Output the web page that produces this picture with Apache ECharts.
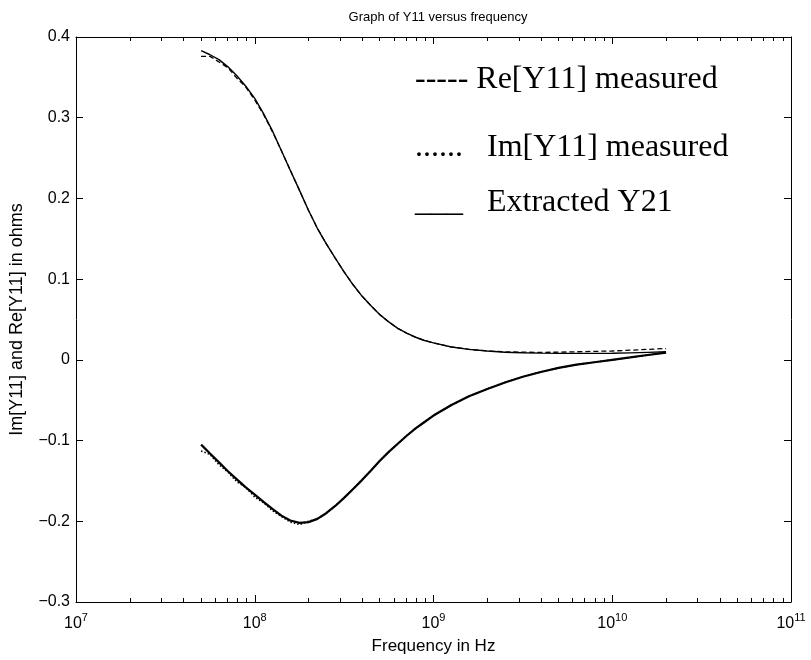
<!DOCTYPE html>
<html>
<head>
<meta charset="utf-8">
<script src="https://cdn.jsdelivr.net/npm/echarts@6/dist/echarts.min.js"></script>
<style>html,body{margin:0;padding:0;background:#fff;}#c{width:811px;height:660px;}</style>
</head>
<body>
<div id="c"></div>
<script>
const freqHz = [5.01e7, 5.62e7, 6.31e7, 7.08e7, 7.94e7, 8.91e7, 1.00e8, 1.12e8, 1.26e8, 1.41e8,
  1.58e8, 1.78e8, 2.00e8, 2.24e8, 2.51e8, 2.82e8, 3.16e8, 3.55e8, 3.98e8, 4.47e8,
  5.01e8, 5.62e8, 6.31e8, 7.08e8, 7.94e8, 8.91e8, 1.00e9, 1.26e9, 1.58e9, 2.00e9,
  2.51e9, 3.16e9, 3.98e9, 5.01e9, 6.31e9, 7.94e9, 1.00e10, 1.26e10, 1.58e10, 2.00e10];
const reMeasured = [0.376, 0.376, 0.369, 0.362, 0.349, 0.338, 0.322, 0.304, 0.282, 0.259,
  0.235, 0.210, 0.185, 0.163, 0.144, 0.126, 0.109, 0.093, 0.079, 0.067,
  0.056, 0.047, 0.039, 0.033, 0.028, 0.024, 0.021, 0.016, 0.013, 0.011,
  0.0100, 0.0095, 0.0093, 0.0095, 0.0100, 0.0105, 0.0110, 0.0120, 0.0130, 0.0140];
const imMeasured = [-0.113, -0.117, -0.130, -0.139, -0.151, -0.158, -0.170, -0.177, -0.187, -0.194,
  -0.201, -0.204, -0.200, -0.197, -0.190, -0.181, -0.171, -0.160, -0.149, -0.137,
  -0.125, -0.114, -0.104, -0.094, -0.085, -0.077, -0.069, -0.056, -0.045, -0.036,
  -0.028, -0.021, -0.015, -0.010, -0.006, -0.003, 0.000, 0.003, 0.006, 0.009];
const reExtracted = [0.383, 0.378, 0.372, 0.363, 0.352, 0.339, 0.324, 0.305, 0.283, 0.259,
  0.235, 0.210, 0.185, 0.163, 0.144, 0.126, 0.109, 0.093, 0.079, 0.067,
  0.056, 0.047, 0.039, 0.033, 0.028, 0.024, 0.021, 0.016, 0.013, 0.011,
  0.0095, 0.0088, 0.0083, 0.0080, 0.0080, 0.0080, 0.0082, 0.0087, 0.0093, 0.0100];
const imExtracted = [-0.105, -0.116, -0.127, -0.138, -0.148, -0.158, -0.167, -0.176, -0.185, -0.193,
  -0.199, -0.202, -0.201, -0.197, -0.190, -0.181, -0.171, -0.160, -0.149, -0.137,
  -0.125, -0.114, -0.104, -0.094, -0.085, -0.077, -0.069, -0.056, -0.045, -0.036,
  -0.028, -0.021, -0.015, -0.010, -0.006, -0.003, 0.000, 0.003, 0.006, 0.009];
const minorTicks = [2e7,3e7,4e7,5e7,6e7,7e7,8e7,9e7,2e8,3e8,4e8,5e8,6e8,7e8,8e8,9e8,2e9,3e9,4e9,5e9,6e9,7e9,8e9,9e9,2e10,3e10,4e10,5e10,6e10,7e10,8e10,9e10];
const legendLines = ['----- Re[Y11] measured', '......   Im[Y11] measured', '___   Extracted Y21'];

const pair = arr => freqHz.map((f, i) => [f, arr[i]]);
const sans = 'Liberation Sans';
const black = '#000';

const baseX = {
  type: 'log', logBase: 10, min: 1e7, max: 1e11, splitNumber: 4,
  axisLine: { show: true, onZero: false, lineStyle: { color: black, width: 1 } },
  splitLine: { show: false }, minorTick: { show: false }
};
const chart = echarts.init(document.getElementById('c'), null, { renderer: 'canvas' });
chart.setOption({
  animation: false,
  backgroundColor: '#fff',
  title: {
    text: 'Graph of Y11 versus frequency', left: 433, top: 6, textAlign: 'center',
    textStyle: { fontFamily: sans, fontSize: 13, fontWeight: 'normal', color: black }
  },
  grid: { left: 75, right: 20, top: 37, bottom: 58 },
  xAxis: [
    Object.assign({}, baseX, {
      position: 'bottom',
      name: 'Frequency in Hz', nameLocation: 'middle', nameGap: 36,
      nameTextStyle: { fontFamily: sans, fontSize: 17, color: black },
      axisTick: { show: true, inside: true, length: 7, lineStyle: { color: black } },
      axisLabel: {
        margin: 10, color: black,
        formatter: v => '{b|10}{e|' + Math.round(Math.log10(v)) + '}',
        rich: {
          b: { fontFamily: sans, fontSize: 16, color: black },
          e: { fontFamily: sans, fontSize: 11, color: black, padding: [0, 0, 13, 0] }
        }
      }
    }),
    Object.assign({}, baseX, {
      position: 'bottom',
      axisLine: { show: false, onZero: false },
      axisTick: { show: true, inside: true, length: 4, customValues: minorTicks, lineStyle: { color: black } },
      axisLabel: { show: false }
    }),
    Object.assign({}, baseX, {
      position: 'top',
      axisTick: { show: true, inside: true, length: 7, lineStyle: { color: black } },
      axisLabel: { show: false }
    }),
    Object.assign({}, baseX, {
      position: 'top',
      axisLine: { show: false, onZero: false },
      axisTick: { show: true, inside: true, length: 4, customValues: minorTicks, lineStyle: { color: black } },
      axisLabel: { show: false }
    })
  ],
  yAxis: [
    {
      type: 'value', min: -0.3, max: 0.4, interval: 0.1, position: 'left',
      name: 'Im[Y11] and Re[Y11] in ohms', nameLocation: 'middle', nameGap: 50, nameRotate: 90,
      nameTextStyle: { fontFamily: sans, fontSize: 18, color: black },
      axisLine: { show: true, onZero: false, lineStyle: { color: black } },
      axisTick: { show: true, inside: true, length: 7, lineStyle: { color: black } },
      splitLine: { show: false },
      axisLabel: {
        fontFamily: sans, fontSize: 16, color: black, margin: 6,
        formatter: v => Math.abs(v) < 1e-9 ? '0' : (v < 0 ? '\u2212' : '') + Math.abs(v).toFixed(1)
      }
    },
    {
      type: 'value', min: -0.3, max: 0.4, interval: 0.1, position: 'right',
      axisLine: { show: true, onZero: false, lineStyle: { color: black } },
      axisTick: { show: true, inside: true, length: 7, lineStyle: { color: black } },
      splitLine: { show: false }, axisLabel: { show: false }
    }
  ],
  series: [
    { name: 'Re[Y11] measured', type: 'line', data: pair(reMeasured), showSymbol: false, symbol: 'none',
      lineStyle: { color: black, width: 1.3, type: [5, 3] } },
    { name: 'Im[Y11] measured', type: 'line', data: pair(imMeasured), showSymbol: false, symbol: 'none',
      lineStyle: { color: black, width: 1.6, type: [1.5, 2] } },
    { name: 'Extracted Y21', type: 'line', data: pair(reExtracted), showSymbol: false, symbol: 'none',
      lineStyle: { color: black, width: 1.4 } },
    { name: 'Extracted Y21', type: 'line', data: pair(imExtracted), showSymbol: false, symbol: 'none',
      lineStyle: { color: black, width: 2.2 } }
  ],
  graphic: legendLines.map((t, i) => ({
    type: 'text', left: 415, top: [64, 132, 187][i],
    style: { text: t, font: '32px "Liberation Serif"', fill: black }
  }))
});
</script>
</body>
</html>
